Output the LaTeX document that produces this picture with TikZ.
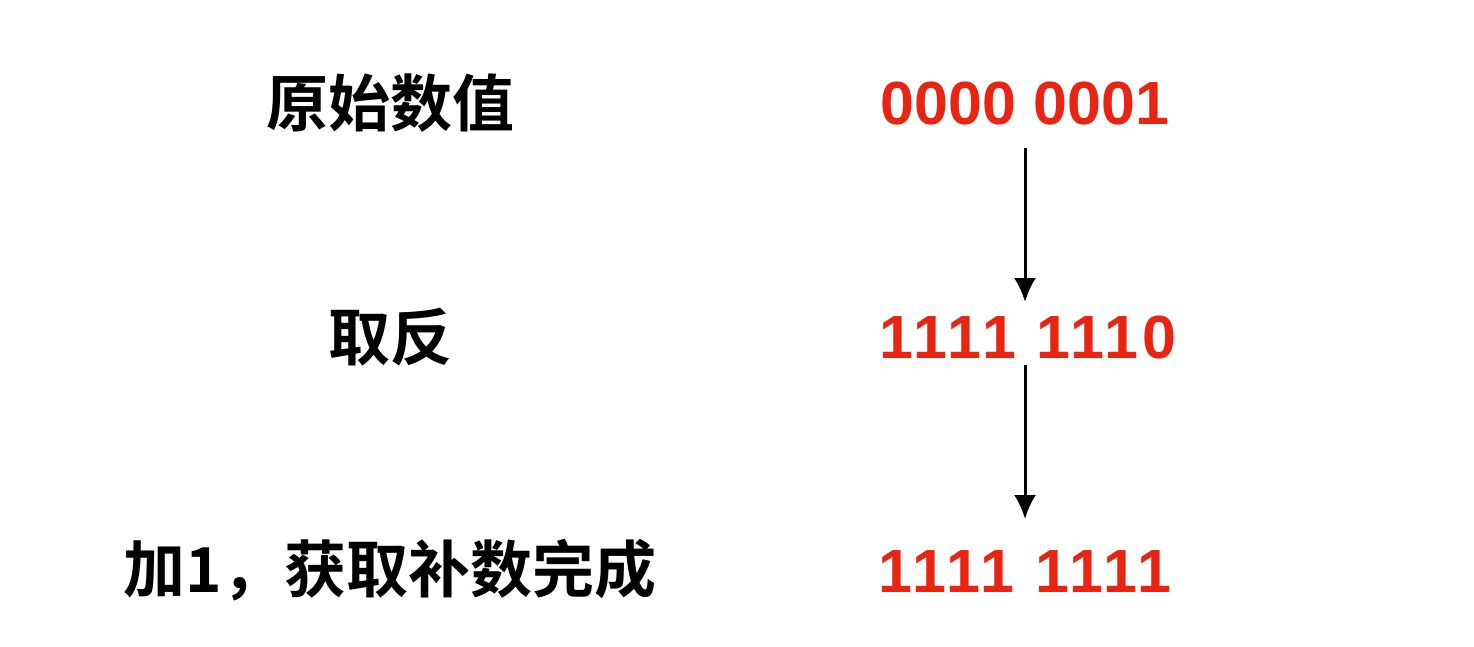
\documentclass[tikz,border=0pt]{standalone}
\usepackage{fontspec}
\usetikzlibrary{arrows.meta}
\newfontfamily\cjk{Noto Sans CJK SC Bold}
\newfontfamily\num{Liberation Sans Bold}
\newfontfamily\numw[LetterSpace=6]{Liberation Sans Bold}
\definecolor{numred}{RGB}{232,36,18}
\begin{document}
\begin{tikzpicture}[x=1pt,y=-1pt,
  lab/.style={font=\cjk\fontsize{62}{70}\selectfont,anchor=center,inner sep=0},
  val/.style={font=\num\fontsize{61}{70}\selectfont,text=numred,anchor=center,inner sep=0},
  valw/.style={font=\numw\fontsize{61}{70}\selectfont,text=numred,anchor=center,inner sep=0},
  arr/.style={draw=black,line width=3pt,-{Latex[length=24pt,width=22pt]}}]
\useasboundingbox (0,0) rectangle (1474,646);
\node[lab] (l1) at (390,103) {原始数值};
\node[lab] (l2) at (390,337) {取反};
\node[lab] (l3) at (390,570) {加1，获取补数完成};
\node[val] (v1) at (1025,103) {0000 0001};
\node[valw] (v2) at (1028,337) {1111 1110};
\node[valw] (v3) at (1025,572) {1111 1111};
\coordinate (a1) at (1025,148);
\coordinate (b1) at (1025,302);
\coordinate (a2) at (1025,365);
\coordinate (b2) at (1025,519);
\draw[arr] (a1) -- (b1);
\draw[arr] (a2) -- (b2);
\end{tikzpicture}
\end{document}
